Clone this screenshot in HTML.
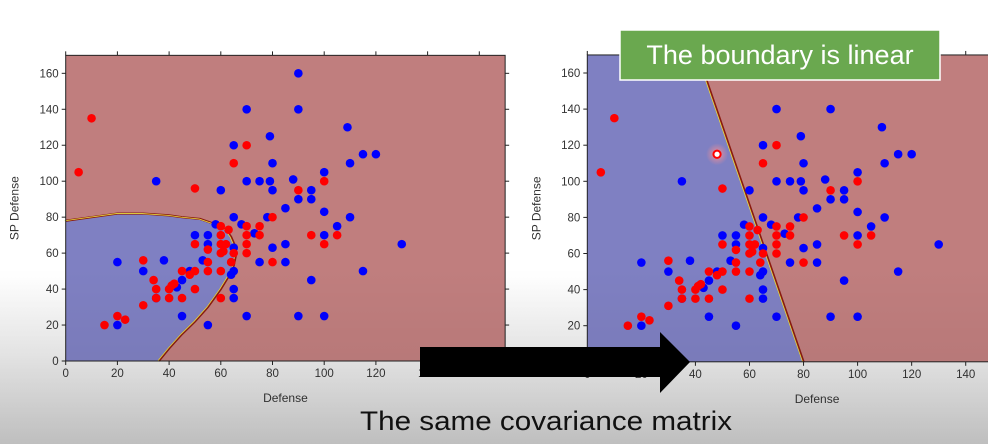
<!DOCTYPE html>
<html><head><meta charset="utf-8"><style>
html,body{margin:0;padding:0;background:#fff}
svg{display:block}
text{font-family:"Liberation Sans",sans-serif}
</style></head><body>
<svg id="root" width="988" height="444" viewBox="0 0 988 444">
<defs>
<linearGradient id="bg" x1="0" y1="0" x2="0" y2="1">
<stop offset="0" stop-color="#ffffff"/><stop offset="0.62" stop-color="#ffffff"/><stop offset="0.8" stop-color="#ececec"/><stop offset="1" stop-color="#cfcfcf"/>
</linearGradient>
<linearGradient id="shade" x1="0" y1="0" x2="0" y2="1">
<stop offset="0" stop-color="#000" stop-opacity="0"/><stop offset="0.6" stop-color="#000" stop-opacity="0"/><stop offset="1" stop-color="#000" stop-opacity="0.08"/>
</linearGradient>
<radialGradient id="glow"><stop offset="0" stop-color="#ff9090" stop-opacity="0.9"/><stop offset="1" stop-color="#ff9090" stop-opacity="0"/></radialGradient>
<clipPath id="clipR"><rect x="0" y="0" width="988" height="444"/></clipPath>
</defs>
<rect width="988" height="444" fill="url(#bg)"/>
<g id="plots"></g>
<rect width="988" height="444" fill="url(#shade)" pointer-events="none"/>
<g>
<rect x="620" y="30" width="320" height="50" fill="#6aa84f" stroke="#fff" stroke-width="1.5"/>
<text x="780" y="64" text-anchor="middle" font-size="27" fill="#fff">The boundary is linear</text>
</g>
<polygon points="420,347 660,347 660,332 690,362 660,393 660,377 420,377" fill="#000"/>
<text x="360" y="430" font-size="27" fill="#111" textLength="372" lengthAdjust="spacingAndGlyphs">The same covariance matrix</text>
</svg>
<script>
const blueX=[90,90,70,109,79,65,115,120,80,110,35,70,75,79,88,100,60,80,95,90,95,85,100,65,78,110,105,68,58,50,55,73,100,55,85,130,80,65,20,38,53,75,85,30,48,65,64,115,45,43,95,65,65,35,45,70,90,100,20,55];
const blueY=[160,140,140,130,125,120,115,115,110,110,100,100,100,100,101,105,95,95,95,90,90,85,83,80,80,80,75,76,76,70,70,71,70,65,65,65,63,63,55,56,56,55,55,50,50,50,48,50,45,41,45,40,35,35,25,25,25,25,20,20];
const redX=[10,5,70,65,50,90,100,80,70,75,70,75,95,105,100,70,70,80,60,63,60,50,60,62,55,60,61,65,55,64,30,45,50,55,60,48,34,35,40,41,42,50,35,40,45,60,30,20,23,15];
const redY=[135,105,120,110,96,95,100,80,75,75,70,70,70,70,65,65,60,55,75,73,70,65,65,65,62,60,61,60,55,55,56,50,50,50,50,48,45,40,40,42,43,40,35,35,35,35,31,25,23,20];
const curveX=[0,10,20,30,40,45,52,58,62,64,65.5,66,65,63,60,55,50,45,40,36];
const curveY=[78,80,82,82,81,80,79,76,73,69,64,60,53,47,40,30,22,15,7,0];
const lineTopY=170, lineSlope=-0.23, lineX0=80;
const xTicks=[0,20,40,60,80,100,120,140,160];
const yTicks=[0,20,40,60,80,100,120,140,160];
const NS="http://www.w3.org/2000/svg";
const root=document.getElementById('plots');
function mk(tag,attrs,parent){const e=document.createElementNS(NS,tag);for(const k in attrs)e.setAttribute(k,attrs[k]);(parent||root).appendChild(e);return e;}
function plot(ox,oy0,kx,ky,linear,name){
  const g=mk('g',{});
  
  
  const X=v=>ox+v*kx, Y=v=>oy0-v*ky;
  const L=X(0),R=X(170),T=Y(170),B=Y(0);
  const bg=mk('rect',{x:L,y:T,width:R-L,height:B-T,fill:'#c07e7e'},g);
  
  
  let pts;
  if(linear){
    const xt=lineX0+lineSlope*lineTopY;
    pts=`${X(0)},${Y(170)} ${X(xt)},${Y(170)} ${X(lineX0)},${Y(0)} ${X(0)},${Y(0)}`;
  } else {
    pts=curveX.map((v,i)=>X(v)+','+Y(curveY[i])).join(' ')+` ${X(0)},${Y(0)}`;
  }
  const reg=mk('polygon',{points:pts,fill:'#7f80c2'},g);
  
  
  let bpts;
  if(linear){bpts=`${X(lineX0+lineSlope*lineTopY)},${Y(170)} ${X(lineX0)},${Y(0)}`;}
  else {bpts=curveX.map((v,i)=>X(v)+','+Y(curveY[i])).join(' ');}
  const b1=mk('polyline',{points:bpts,fill:'none',stroke:'#8a1a10',"stroke-width":2.2},g);
  
  
  mk('polyline',{points:bpts,fill:'none',stroke:'#e8e040',"stroke-width":0.8,transform:'translate(-1,0)'},g);
  blueX.forEach((v,i)=>{
    const c=mk('circle',{cx:X(v),cy:Y(blueY[i]),r:4.3,fill:'#0000ff'},g);
    
    
  });
  redX.forEach((v,i)=>{
    const c=mk('circle',{cx:X(v),cy:Y(redY[i]),r:4.3,fill:'#ff0000'},g);
    
    
  });
  const fr=mk('rect',{x:L,y:T,width:R-L,height:B-T,fill:'none',stroke:'#222',"stroke-width":1},g);
  
  
  xTicks.forEach(t=>{
    mk('line',{x1:X(t),x2:X(t),y1:B,y2:B+4,stroke:'#222'},g);
    mk('line',{x1:X(t),x2:X(t),y1:T,y2:T-4,stroke:'#222'},g);
    const tx=mk('text',{x:X(t),y:B+16,"font-size":11.5,"text-anchor":"middle",fill:'#333'},g);
    tx.textContent=t;
    
    
  });
  yTicks.forEach(t=>{
    mk('line',{x1:L,x2:L-4,y1:Y(t),y2:Y(t),stroke:'#222'},g);
    mk('line',{x1:R,x2:R+4,y1:Y(t),y2:Y(t),stroke:'#222'},g);
    const tx=mk('text',{x:L-7,y:Y(t)+4,"font-size":11.5,"text-anchor":"end",fill:'#333'},g);
    tx.textContent=t;
    
    
  });
  const xl=mk('text',{x:(X(0)+X(170))/2,y:B+41,"font-size":12,"text-anchor":"middle",fill:'#333'},g);
  xl.textContent='Defense';
  
  
  const yx=L-47, yy=(T+B)/2;
  const yl=mk('text',{x:yx,y:yy,"font-size":12,"text-anchor":"middle",fill:'#333',transform:`rotate(-90 ${yx} ${yy})`},g);
  yl.textContent='SP Defense';
  
  
  return {X,Y,g};
}
plot(65.7,361,2.585,1.798,false,'left-plot-quadratic');
const r=plot(587.3,361.8,2.703,1.805,true,'right-plot-linear');
const hlX=48, hlY=115;
const gl=mk('circle',{cx:r.X(hlX),cy:r.Y(hlY),r:11,fill:'url(#glow)'},r.g);


const hp=mk('circle',{cx:r.X(hlX),cy:r.Y(hlY),r:3.6,fill:'#fff',stroke:'#f00',"stroke-width":2},r.g);


</script>
</body></html>
